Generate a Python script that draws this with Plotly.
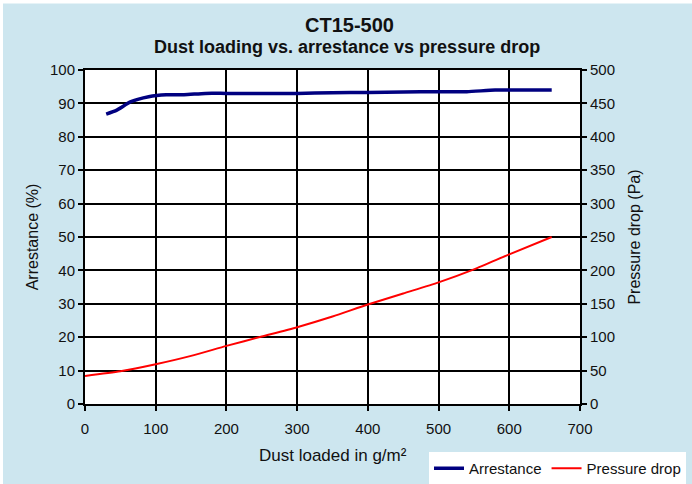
import plotly.graph_objects as go

# ---- data ----
arr_x = [30, 45, 65, 90, 115, 140, 170, 200, 250, 300, 350, 400, 450, 500, 540, 580, 620, 660]
arr_y = [86.8, 88.0, 90.5, 92.0, 92.6, 92.6, 93.0, 93.0, 93.0, 93.0, 93.2, 93.3, 93.4, 93.5, 93.5, 94.0, 94.0, 94.0]

pd_x = [0, 50, 100, 150, 200, 250, 300, 350, 400, 450, 500, 550, 600, 660]
pd_y = [42, 49, 59.5, 72, 87, 101, 115, 131, 149, 165.5, 182, 201.5, 224, 250]

x_ticks = [0, 100, 200, 300, 400, 500, 600, 700]
y1_ticks = list(range(0, 101, 10))
y2_ticks = list(range(0, 501, 50))

title_main = "CT15-500"
title_sub = "Dust loading vs. arrestance vs pressure drop"
x_title = "Dust loaded in g/m²"

# ---- layout constants ----
W, H = 692, 484
ML, MR, MT, MB = 85, 112, 70, 80
PW = W - ML - MR
PH = H - MT - MB
BG = "#cde6ef"
FONT = "Liberation Sans, Arial, sans-serif"


def px_to_xp(px):
    return (px - ML) / PW


def py_to_yp(py):
    return (H - MB - py) / PH


fig = go.Figure()
fig.add_trace(go.Scatter(x=arr_x, y=arr_y, mode="lines", name="Arrestance",
                         line=dict(color="#000080", width=3.5, shape="spline", smoothing=0.6),
                         yaxis="y"))
fig.add_trace(go.Scatter(x=pd_x, y=pd_y, mode="lines", name="Pressure drop",
                         line=dict(color="#ff0000", width=2, shape="spline", smoothing=0.6),
                         yaxis="y2"))

axis_common = dict(
    showline=True, linecolor="black", linewidth=2,
    ticks="outside", ticklen=5, tickwidth=1.5, tickcolor="black",
    tickfont=dict(family=FONT, size=15, color="#111111"),
    zeroline=False, automargin=False,
)

fig.update_layout(
    width=W, height=H,
    margin=dict(l=ML, r=MR, t=MT, b=MB, pad=0, autoexpand=False),
    paper_bgcolor=BG, plot_bgcolor="white",
    font=dict(family=FONT, color="#111111"),
    showlegend=True,
    xaxis=dict(range=[0, 700], tickvals=x_ticks, showgrid=True, gridcolor="black", gridwidth=2,
               mirror=True, ticklabelstandoff=5, **axis_common),
    yaxis=dict(range=[0, 100], tickvals=y1_ticks, showgrid=True, gridcolor="black", gridwidth=2,
               title=dict(text="Arrestance (%)", font=dict(family=FONT, size=16), standoff=7),
               **axis_common),
    yaxis2=dict(range=[0, 500], tickvals=y2_ticks, overlaying="y", side="right", showgrid=False,
                title=dict(text="Pressure drop (Pa)", font=dict(family=FONT, size=16), standoff=15),
                **axis_common),
    legend=dict(orientation="h", xref="container", yref="container",
                x=429 / W, y=1 - 452 / H, xanchor="left", yanchor="top",
                bgcolor="white", font=dict(family=FONT, size=15), itemwidth=30,
                traceorder="normal"),
    annotations=[
        dict(text="<b>%s</b>" % title_main, xref="paper", yref="paper",
             x=px_to_xp(349), y=py_to_yp(25), xanchor="center", yanchor="middle",
             showarrow=False, font=dict(family=FONT, size=20, color="#111111")),
        dict(text="<b>%s</b>" % title_sub, xref="paper", yref="paper",
             x=px_to_xp(346.5), y=py_to_yp(47), xanchor="center", yanchor="middle",
             showarrow=False, font=dict(family=FONT, size=18, color="#111111")),
        dict(text=x_title, xref="paper", yref="paper",
             x=px_to_xp(333), y=py_to_yp(455), xanchor="center", yanchor="middle",
             showarrow=False, font=dict(family=FONT, size=17, color="#111111")),
    ],
    shapes=[
        dict(type="rect", xref="paper", yref="paper", x0=px_to_xp(0), x1=px_to_xp(W),
             y0=py_to_yp(3.5), y1=py_to_yp(0), fillcolor="white", line=dict(width=0), layer="below"),
        dict(type="rect", xref="paper", yref="paper", x0=px_to_xp(0), x1=px_to_xp(3),
             y0=py_to_yp(H), y1=py_to_yp(0), fillcolor="white", line=dict(width=0), layer="below"),
    ],
)

fig.write_html("out.html", config={"displayModeBar": False},
               post_script="document.body.style.margin='0';")
